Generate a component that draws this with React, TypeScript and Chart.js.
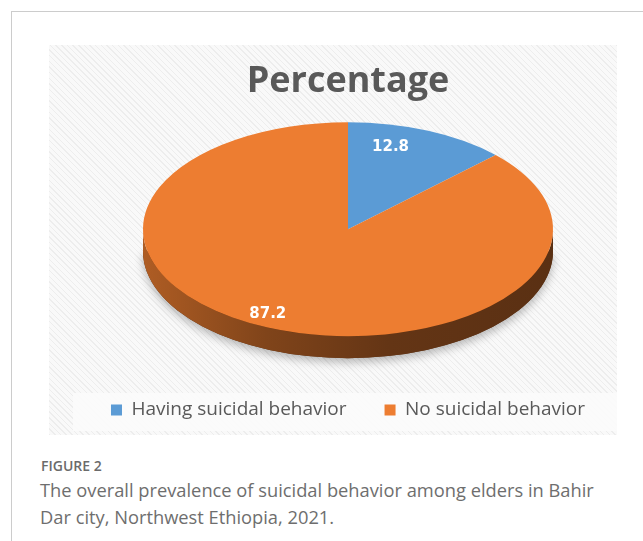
import React, { useEffect, useRef } from "react";
import { Chart, registerables } from "chart.js";

Chart.register(...registerables);

const categories = ["Having suicidal behavior", "No suicidal behavior"];
const values = [12.8, 87.2];
const valueLabels = ["12.8", "87.2"];
const sliceColors = ["#5B9BD5", "#ED7D31"];
const chartTitle = "Percentage";
const figureLabel = "FIGURE 2";
const captionLines = [
  "The overall prevalence of suicidal behavior among elders in Bahir",
  "Dar city, Northwest Ethiopia, 2021.",
];

const SQUASH = 107 / 205;
const DEPTH = 22;
const LABEL_POS = [
  [0.53, 0.83],
  [1.0, 0.86],
];

function shade(hex: string, f: number): string {
  const n = parseInt(hex.slice(1), 16);
  const r = Math.round(((n >> 16) & 255) * f);
  const g = Math.round(((n >> 8) & 255) * f);
  const b = Math.round((n & 255) * f);
  return `rgb(${r},${g},${b})`;
}

const pie3d = {
  id: "pie3d",
  beforeDatasetDraw(chart: any, args: any) {
    const ctx: CanvasRenderingContext2D = chart.ctx;
    const arcs = args.meta.data;
    if (!arcs.length) return;
    const cx = arcs[0].x;
    const cy = arcs[0].y;
    const r = arcs[0].outerRadius;
    const ry = r * SQUASH;
    ctx.save();
    ctx.save();
    ctx.shadowColor = "rgba(0,0,0,0.28)";
    ctx.shadowBlur = 10;
    ctx.shadowOffsetY = 4;
    ctx.fillStyle = "rgba(90,45,15,1)";
    ctx.beginPath();
    ctx.ellipse(cx, cy + DEPTH, r, ry, 0, 0, Math.PI);
    ctx.fill();
    ctx.restore();
    arcs.forEach((arc: any, i: number) => {
      const color = sliceColors[i % sliceColors.length];
      const grad = ctx.createLinearGradient(cx - r, 0, cx + r, 0);
      grad.addColorStop(0, shade(color, 0.74));
      grad.addColorStop(0.3, shade(color, 0.54));
      grad.addColorStop(0.6, shade(color, 0.42));
      grad.addColorStop(1, shade(color, 0.38));
      const ranges = [
        [0, Math.PI],
        [2 * Math.PI, 3 * Math.PI],
        [-2 * Math.PI, -Math.PI],
      ];
      ranges.forEach(([lo, hi]) => {
        const a = Math.max(arc.startAngle, lo);
        const b = Math.min(arc.endAngle, hi);
        if (b <= a) return;
        ctx.beginPath();
        ctx.ellipse(cx, cy, r, ry, 0, a, b);
        ctx.ellipse(cx, cy + DEPTH, r, ry, 0, b, a, true);
        ctx.closePath();
        ctx.fillStyle = grad;
        ctx.fill();
      });
    });
    ctx.translate(cx, cy);
    ctx.scale(1, SQUASH);
    ctx.translate(-cx, -cy);
  },
  afterDatasetDraw(chart: any) {
    chart.ctx.restore();
  },
  afterDatasetsDraw(chart: any) {
    const ctx: CanvasRenderingContext2D = chart.ctx;
    const arcs = chart.getDatasetMeta(0).data;
    ctx.save();
    ctx.fillStyle = "#ffffff";
    ctx.font = "bold 15px 'DejaVu Sans'";
    ctx.textAlign = "center";
    ctx.textBaseline = "middle";
    arcs.forEach((arc: any, i: number) => {
      const mid = (arc.startAngle + arc.endAngle) / 2;
      const [fx, fy] = LABEL_POS[i];
      const x = arc.x + Math.cos(mid) * arc.outerRadius * fx;
      const y = arc.y + Math.sin(mid) * arc.outerRadius * SQUASH * fy;
      ctx.fillText(valueLabels[i], x, y);
    });
    ctx.restore();
  },
};

export default function App() {
  const canvasRef = useRef<HTMLCanvasElement | null>(null);

  useEffect(() => {
    if (!canvasRef.current) return;
    const chart = new Chart(canvasRef.current, {
      type: "pie",
      data: {
        labels: categories,
        datasets: [
          {
            data: values,
            backgroundColor: sliceColors,
            borderWidth: 0,
            radius: 205,
            clip: false,
          } as any,
        ],
      },
      options: {
        responsive: false,
        animation: false,
        devicePixelRatio: 1,
        layout: { padding: { left: 8, right: 0, top: 0, bottom: 5.5 } },
        plugins: {
          title: {
            display: true,
            text: chartTitle,
            color: "#595959",
            font: { family: "'Open Sans'", size: 36, weight: "bold", lineHeight: 0.8 },
            padding: { top: 22, bottom: 0 },
          },
          legend: {
            position: "bottom",
            labels: {
              boxWidth: 11,
              boxHeight: 11,
              color: "#595959",
              font: { family: "'Open Sans'", size: 19 },
              padding: 38,
            },
          },
          tooltip: { enabled: false },
        },
      },
      plugins: [pie3d],
    });
    return () => chart.destroy();
  }, []);

  return (
    <div
      style={{
        position: "fixed",
        left: 0,
        top: 0,
        width: 643,
        height: 541,
        background: "#ffffff",
        overflow: "hidden",
      }}
    >
      <div
        style={{
          position: "absolute",
          left: 11,
          top: 11,
          width: 700,
          height: 600,
          borderTop: "1px solid #cccccc",
          borderLeft: "1px solid #cccccc",
        }}
      />
      <div
        style={{
          position: "absolute",
          left: 49,
          top: 45,
          width: 568,
          height: 390,
          background:
            "repeating-linear-gradient(45deg, #ededed 0px, #ededed 1px, #f9f9f9 1px, #f9f9f9 4px)",
        }}
      />
      <div
        style={{
          position: "absolute",
          left: 73,
          top: 393,
          width: 544,
          height: 38,
          background: "rgba(252,252,252,0.85)",
        }}
      />
      <canvas
        ref={canvasRef}
        width={590}
        height={390}
        style={{ position: "absolute", left: 49, top: 45, width: 590, height: 390 }}
      />
      <div
        style={{
          position: "absolute",
          left: 41,
          top: 456,
          fontFamily: "'Open Sans', sans-serif",
          fontSize: 14,
          fontWeight: 600,
          color: "#6b6b6b",
          lineHeight: "20px",
        }}
      >
        {figureLabel}
      </div>
      <div
        style={{
          position: "absolute",
          left: 40,
          top: 476,
          width: 600,
          fontFamily: "'Open Sans', sans-serif",
          fontSize: 18.3,
          color: "#6e6e6e",
          lineHeight: "27px",
          whiteSpace: "nowrap",
        }}
      >
        {captionLines.map((l, i) => (
          <div key={i}>{l}</div>
        ))}
      </div>
    </div>
  );
}
